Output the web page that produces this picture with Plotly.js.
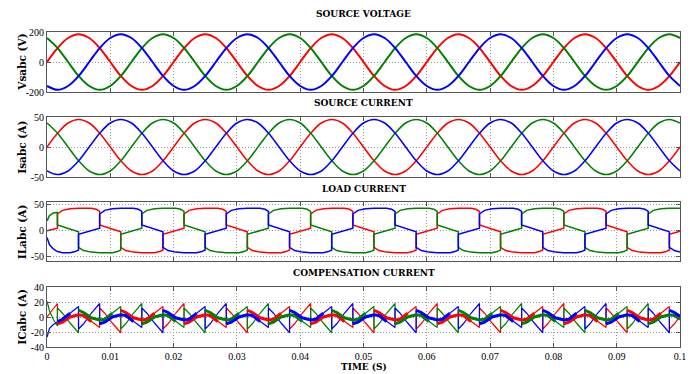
<!DOCTYPE html>
<html><head><meta charset="utf-8">
<script src="https://cdn.plot.ly/plotly-3.0.1.min.js"></script>
<style>html,body{margin:0;padding:0;background:#fff}#chart{width:695px;height:374px}</style>
</head><body><div id="chart"></div>
<script>
// ---- time axis ----
const SAMPLE_STEP = 1 / 600;           // s, sine panels sampled every 30 degrees
const X_TICKS = [0, 0.01, 0.02, 0.03, 0.04, 0.05, 0.06, 0.07, 0.08, 0.09, 0.1];
const X_TICK_TEXT = ['0', '0.01', '0.02', '0.03', '0.04', '0.05', '0.06', '0.07', '0.08', '0.09', '0.1'];

// ---- source voltage (V) ----
const VS_A = [0,93,160,185,160,93,0,-93,-160,-185,-160,-93, 0,93,160,185,160,93,0,-93,-160,-185,-160,-93, 0,93,160,185,160,93,0,-93,-160,-185,-160,-93, 0,93,160,185,160,93,0,-93,-160,-185,-160,-93, 0,93,160,185,160,93,0,-93,-160,-185,-160,-93, 0];
const VS_B = [-160,-185,-160,-93,0,93,160,185,160,93,0,-93, -160,-185,-160,-93,0,93,160,185,160,93,0,-93, -160,-185,-160,-93,0,93,160,185,160,93,0,-93, -160,-185,-160,-93,0,93,160,185,160,93,0,-93, -160,-185,-160,-93,0,93,160,185,160,93,0,-93, -160];
const VS_C = [160,93,0,-93,-160,-185,-160,-93,0,93,160,185, 160,93,0,-93,-160,-185,-160,-93,0,93,160,185, 160,93,0,-93,-160,-185,-160,-93,0,93,160,185, 160,93,0,-93,-160,-185,-160,-93,0,93,160,185, 160,93,0,-93,-160,-185,-160,-93,0,93,160,185, 160];

// ---- source current (A) ----
const IS_A = [0,23,40,46,40,23,0,-23,-40,-46,-40,-23, 0,23,40,46,40,23,0,-23,-40,-46,-40,-23, 0,23,40,46,40,23,0,-23,-40,-46,-40,-23, 0,23,40,46,40,23,0,-23,-40,-46,-40,-23, 0,23,40,46,40,23,0,-23,-40,-46,-40,-23, 0];
const IS_B = [-40,-46,-40,-23,0,23,40,46,40,23,0,-23, -40,-46,-40,-23,0,23,40,46,40,23,0,-23, -40,-46,-40,-23,0,23,40,46,40,23,0,-23, -40,-46,-40,-23,0,23,40,46,40,23,0,-23, -40,-46,-40,-23,0,23,40,46,40,23,0,-23, -40];
const IS_C = [40,23,0,-23,-40,-46,-40,-23,0,23,40,46, 40,23,0,-23,-40,-46,-40,-23,0,23,40,46, 40,23,0,-23,-40,-46,-40,-23,0,23,40,46, 40,23,0,-23,-40,-46,-40,-23,0,23,40,46, 40,23,0,-23,-40,-46,-40,-23,0,23,40,46, 40];

// ---- load / compensation current sampling: commutation instants (s) ----
const LOAD_START = [0, 0.0004, 0.001];
const LOAD_EVENTS = [0.00165,0.00498,0.00832,0.01165,0.01498,0.01832,0.02165,0.02498,0.02832,0.03165,0.03498,0.03832,0.04165,0.04498,0.04832,0.05165,0.05498,0.05832,0.06165,0.06498,0.06832,0.07165,0.07498,0.07832,0.08165,0.08498,0.08832,0.09165,0.09498,0.09832];
const EVENT_OFFSETS = [0.0008, 0.002, 0.0028];
const LOAD_END = 0.1;

// ---- load current (A) ----
const IL_A = [0,1,3,5,
 32,39,42,43,43, 43,43,43,41,37, 11,8,3,0,-2, -32,-38,-41,-42,-42, -42,-42,-42,-40,-37, -7,-4,0,3,5,
 32,39,42,43,43, 43,43,43,41,37, 11,8,3,0,-2, -32,-38,-41,-42,-42, -42,-42,-42,-40,-37, -7,-4,0,3,5,
 32,39,42,43,43, 43,43,43,41,37, 11,8,3,0,-2, -32,-38,-41,-42,-42, -42,-42,-42,-40,-37, -7,-4,0,3,5,
 32,39,42,43,43, 43,43,43,41,37, 11,8,3,0,-2, -32,-38,-41,-42,-42, -42,-42,-42,-40,-37, -7,-4,0,3,5,
 32,39,42,43,43, 43,43,43,41,37, 11,8,3,0,-2, -32,-38,-41,-42,-42, -42,-42,-42,-40,-37, -7,-4,-1];
const IL_B = [-13,-27,-35,-39,
 -40,-42,-42,-40,-37, -7,-4,0,3,5,
 32,39,42,43,43, 43,43,43,41,37, 11,8,3,0,-2, -32,-38,-41,-42,-42, -42,-42,-42,-40,-37, -7,-4,0,3,5,
 32,39,42,43,43, 43,43,43,41,37, 11,8,3,0,-2, -32,-38,-41,-42,-42, -42,-42,-42,-40,-37, -7,-4,0,3,5,
 32,39,42,43,43, 43,43,43,41,37, 11,8,3,0,-2, -32,-38,-41,-42,-42, -42,-42,-42,-40,-37, -7,-4,0,3,5,
 32,39,42,43,43, 43,43,43,41,37, 11,8,3,0,-2, -32,-38,-41,-42,-42, -42,-42,-42,-40,-37, -7,-4,0,3,5,
 32,39,42,43,43, 43,43,43,41,37, 11,8,3,0,-2, -32,-38,-41];
const IL_C = [19,29,34,35,
 11,8,3,0,-2, -32,-38,-41,-42,-42, -42,-42,-42,-40,-37, -7,-4,0,3,5,
 32,39,42,43,43, 43,43,43,41,37, 11,8,3,0,-2, -32,-38,-41,-42,-42, -42,-42,-42,-40,-37, -7,-4,0,3,5,
 32,39,42,43,43, 43,43,43,41,37, 11,8,3,0,-2, -32,-38,-41,-42,-42, -42,-42,-42,-40,-37, -7,-4,0,3,5,
 32,39,42,43,43, 43,43,43,41,37, 11,8,3,0,-2, -32,-38,-41,-42,-42, -42,-42,-42,-40,-37, -7,-4,0,3,5,
 32,39,42,43,43, 43,43,43,41,37, 11,8,3,0,-2, -32,-38,-41,-42,-42, -42,-42,-42,-40,-37, -7,-4,0,3,5,
 32,39,42,43,43, 43,43,43];

// ---- compensation current (A) ----
const IC_A = [0,5,11,18,
 -9,-7,0,2,3, 3,2,-6,-11,-14, 12,5,-8,-16,-21, 9,6,-1,-3,-4, -4,-3,5,10,14, -16,-9,5,13,18,
 -9,-7,0,2,3, 3,2,-6,-11,-14, 12,5,-8,-16,-21, 9,6,-1,-3,-4, -4,-3,5,10,14, -16,-9,5,13,18,
 -9,-7,0,2,3, 3,2,-6,-11,-14, 12,5,-8,-16,-21, 9,6,-1,-3,-4, -4,-3,5,10,14, -16,-9,5,13,18,
 -9,-7,0,2,3, 3,2,-6,-11,-14, 12,5,-8,-16,-21, 9,6,-1,-3,-4, -4,-3,5,10,14, -16,-9,5,13,18,
 -9,-7,0,2,3, 3,2,-6,-11,-14, 12,5,-8,-16,-21, 9,6,-1,-3,-4, -4,-3,5,10,14, -16,-9,1];
const IC_B = [-27,-15,-10,-7,
 -6,-3,5,11,14, -16,-9,5,13,18,
 -9,-7,0,2,3, 3,2,-6,-11,-14, 12,5,-8,-16,-21, 9,6,-1,-3,-4, -4,-3,5,10,14, -16,-9,5,13,18,
 -9,-7,0,2,3, 3,2,-6,-11,-14, 12,5,-8,-16,-21, 9,6,-1,-3,-4, -4,-3,5,10,14, -16,-9,5,13,18,
 -9,-7,0,2,3, 3,2,-6,-11,-14, 12,5,-8,-16,-21, 9,6,-1,-3,-4, -4,-3,5,10,14, -16,-9,5,13,18,
 -9,-7,0,2,3, 3,2,-6,-11,-14, 12,5,-8,-16,-21, 9,6,-1,-3,-4, -4,-3,5,10,14, -16,-9,5,13,18,
 -9,-7,0,2,3, 3,2,-6,-11,-14, 12,5,-8,-16,-21, 9,6,1];
const IC_C = [21,8,-3,-12,
 12,5,-8,-16,-21, 9,6,-1,-3,-4, -4,-3,5,10,14, -16,-9,5,13,18,
 -9,-7,0,2,3, 3,2,-6,-11,-14, 12,5,-8,-16,-21, 9,6,-1,-3,-4, -4,-3,5,10,14, -16,-9,5,13,18,
 -9,-7,0,2,3, 3,2,-6,-11,-14, 12,5,-8,-16,-21, 9,6,-1,-3,-4, -4,-3,5,10,14, -16,-9,5,13,18,
 -9,-7,0,2,3, 3,2,-6,-11,-14, 12,5,-8,-16,-21, 9,6,-1,-3,-4, -4,-3,5,10,14, -16,-9,5,13,18,
 -9,-7,0,2,3, 3,2,-6,-11,-14, 12,5,-8,-16,-21, 9,6,-1,-3,-4, -4,-3,5,10,14, -16,-9,5,13,18,
 -9,-7,0,2,3, 3,2,-3];

// ---- text ----
const PANEL_TITLES = ['SOURCE VOLTAGE', 'SOURCE CURRENT', 'LOAD CURRENT', 'COMPENSATION CURRENT'];
const Y_TITLES = ['Vsabc (V)', 'Isabc (A)', 'ILabc (A)', 'ICabc (A)'];
const X_TITLE = 'TIME (S)';
const Y_TICKS = [[-200, 0, 200], [-50, 0, 50], [-50, 0, 50], [-40, -20, 0, 20, 40]];
const Y_RANGES = [[-200, 200], [-50, 50], [-58, 55], [-40, 40]];

// ---------- build ----------
function loadTime() {
  const t = LOAD_START.slice();
  LOAD_EVENTS.forEach((e, k) => {
    t.push(e, e);
    if (k < LOAD_EVENTS.length - 1) { EVENT_OFFSETS.forEach(o => t.push(e + o)); }
    else { t.push(e + EVENT_OFFSETS[0], LOAD_END); }
  });
  return t;
}
const TL = loadTime();

// slow (near-zero, ripple-dominated) stretches of the compensation current drawn thicker
function slowParts(x, y) {
  const out = y.map(() => null);
  for (let i = 0; i < y.length - 1; i++) {
    const dt = (x[i + 1] - x[i]) * 1000;
    if (dt <= 0) continue;
    const s = Math.abs(y[i + 1] - y[i]) / dt;
    if (s < 7 && Math.abs(y[i]) < 10 && Math.abs(y[i + 1]) < 10) { out[i] = y[i]; out[i + 1] = y[i + 1]; }
  }
  return out;
}

const RED = '#ff0000', GREEN = '#008000', BLUE = '#0000ff';
const traces = [];
function sine(y, color, ax, w) {
  traces.push({type: 'scatter', mode: 'lines', x0: 0, dx: SAMPLE_STEP, y: y,
    line: {color: color, width: w, shape: 'spline', smoothing: 1}, xaxis: 'x' + ax, yaxis: 'y' + ax, hoverinfo: 'skip'});
}
function piece(y, color, ax, w) {
  traces.push({type: 'scatter', mode: 'lines', x: TL, y: y,
    line: {color: color, width: w}, xaxis: 'x' + ax, yaxis: 'y' + ax, hoverinfo: 'skip'});
}
sine(VS_A, RED, '', 2); sine(VS_C, GREEN, '', 2); sine(VS_B, BLUE, '', 2);
sine(IS_A, RED, 2, 1.5); sine(IS_C, GREEN, 2, 1.5); sine(IS_B, BLUE, 2, 1.5);
piece(IL_A, RED, 3, 1.5); piece(IL_C, GREEN, 3, 1.5); piece(IL_B, BLUE, 3, 1.5);
piece(IC_A, RED, 4, 1.2); piece(IC_C, GREEN, 4, 1.2); piece(IC_B, BLUE, 4, 1.2);
piece(slowParts(TL, IC_A), RED, 4, 3); piece(slowParts(TL, IC_C), GREEN, 4, 3); piece(slowParts(TL, IC_B), BLUE, 4, 3);

const H = 374;
const PANEL_PX = [[32, 92], [117, 177], [202, 261], [287, 347]];
const TITLE_PX = [14, 103, 189, 273];
const tickFont = {family: 'Liberation Serif, serif', size: 10, color: '#000'};
const base = {
  showline: true, linecolor: '#555', linewidth: 1, mirror: 'ticks',
  ticks: 'inside', ticklen: 4, tickcolor: '#555', tickwidth: 1,
  showgrid: true, gridcolor: '#9a9a9a', griddash: '1px,2px', gridwidth: 1,
  zeroline: false, tickfont: tickFont, automargin: false, fixedrange: true
};
const layout = {
  width: 695, height: 374, margin: {l: 47, r: 15, t: 0, b: 0},
  paper_bgcolor: '#fff', plot_bgcolor: '#fff', showlegend: false,
  font: {family: 'Liberation Serif, serif', size: 10, color: '#000'},
  annotations: []
};
const boldFont = (s) => ({family: 'DejaVu Serif, serif', size: s, color: '#000', weight: 'bold'});
PANEL_PX.forEach((p, i) => {
  const n = i === 0 ? '' : String(i + 1);
  const dom = [1 - p[1] / H, 1 - p[0] / H];
  layout['xaxis' + n] = Object.assign({}, base, {
    anchor: 'y' + n, domain: [0, 1], range: [0, 0.1],
    tickvals: X_TICKS, ticktext: X_TICK_TEXT, showticklabels: i === 3
  });
  layout['yaxis' + n] = Object.assign({}, base, {
    anchor: 'x' + n, domain: dom, range: Y_RANGES[i],
    tickvals: Y_TICKS[i], ticktext: Y_TICKS[i].map(String)
  });
  layout.annotations.push({xref: 'paper', yref: 'paper', x: 0.5, y: 1 - TITLE_PX[i] / H,
    text: '<b>' + PANEL_TITLES[i] + '</b>', showarrow: false, font: boldFont(9), xanchor: 'center', yanchor: 'middle'});
  layout.annotations.push({xref: 'paper', yref: 'paper', x: (21.7 - 47) / 633, y: (dom[0] + dom[1]) / 2,
    text: '<b>' + Y_TITLES[i] + '</b>', showarrow: false, textangle: -90, font: boldFont(10.5), xanchor: 'center', yanchor: 'middle'});
});
layout.annotations.push({xref: 'paper', yref: 'paper', x: 0.5, y: 1 - 366.5 / H,
  text: '<b>' + X_TITLE + '</b>', showarrow: false, font: boldFont(9), xanchor: 'center', yanchor: 'middle'});

Plotly.newPlot('chart', traces, layout, {staticPlot: true, displayModeBar: false});
</script>
</body></html>
